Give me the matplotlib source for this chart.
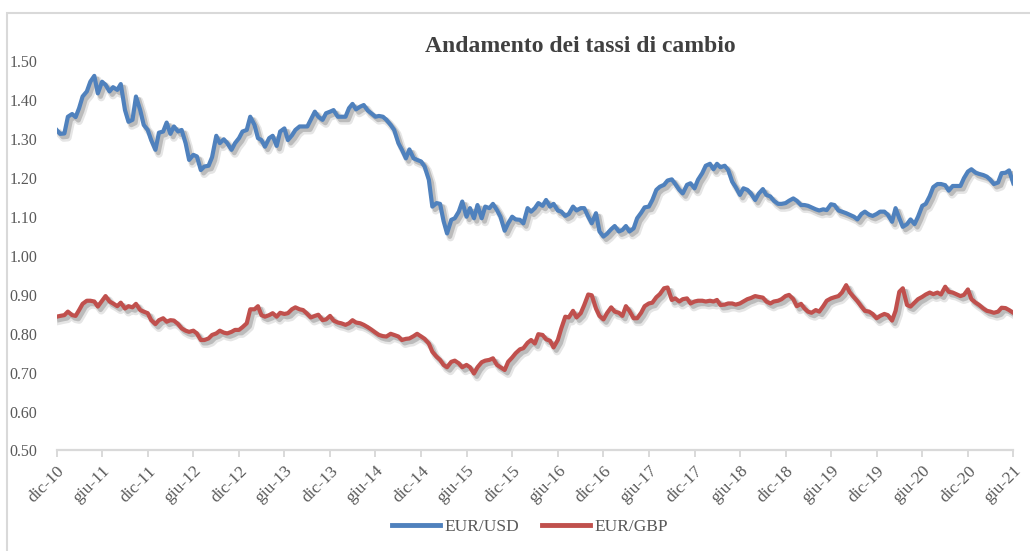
import matplotlib

matplotlib.use("Agg")
import matplotlib.pyplot as plt
import matplotlib.patheffects as pe
from matplotlib.patches import Rectangle
import pandas as pd

# semi-monthly observations, dic-10 .. giu-21
dates = pd.date_range("2010-12-01", "2021-06-01", freq="SMS")

eur_usd = [
    1.324, 1.314, 1.315, 1.358, 1.365, 1.357, 1.38, 1.41, 1.423, 1.448,
    1.463, 1.418, 1.448, 1.44, 1.423, 1.434, 1.427, 1.442, 1.375, 1.345,
    1.35, 1.41, 1.375, 1.337, 1.324, 1.298, 1.273, 1.317, 1.32, 1.343,
    1.314, 1.333, 1.32, 1.324, 1.29, 1.247, 1.26, 1.256, 1.221, 1.23,
    1.232, 1.254, 1.309, 1.29, 1.3, 1.29, 1.273, 1.29, 1.303, 1.32,
    1.324, 1.358, 1.337, 1.303, 1.298, 1.281, 1.303, 1.309, 1.283, 1.32,
    1.328, 1.298, 1.31, 1.324, 1.333, 1.333, 1.333, 1.351, 1.371, 1.358,
    1.35, 1.367, 1.371, 1.375, 1.358, 1.358, 1.358, 1.38, 1.391, 1.377,
    1.384, 1.388, 1.374, 1.367, 1.358, 1.36, 1.358, 1.35, 1.337, 1.324,
    1.29, 1.273, 1.251, 1.274, 1.251, 1.247, 1.243, 1.23, 1.196, 1.127,
    1.136, 1.134, 1.09, 1.058, 1.093, 1.097, 1.114, 1.14, 1.101, 1.123,
    1.097, 1.131, 1.097, 1.127, 1.123, 1.134, 1.118, 1.101, 1.065, 1.084,
    1.101, 1.094, 1.093, 1.084, 1.123, 1.114, 1.123, 1.136, 1.129, 1.144,
    1.127, 1.134, 1.117, 1.114, 1.103, 1.108, 1.127, 1.117, 1.123, 1.123,
    1.101, 1.084, 1.11, 1.063, 1.05, 1.057, 1.069, 1.077, 1.063, 1.067,
    1.077, 1.063, 1.071, 1.097, 1.111, 1.125, 1.127, 1.144, 1.17, 1.178,
    1.183, 1.194, 1.197, 1.185, 1.17, 1.161, 1.183, 1.187, 1.174, 1.196,
    1.213, 1.232, 1.237, 1.223, 1.237, 1.228, 1.232, 1.221, 1.191, 1.177,
    1.157, 1.174, 1.17, 1.161, 1.144, 1.16, 1.172, 1.157, 1.153, 1.142,
    1.134, 1.134, 1.136, 1.142, 1.148, 1.142, 1.131, 1.131, 1.129, 1.125,
    1.12, 1.117, 1.12, 1.118, 1.133, 1.131, 1.117, 1.114, 1.11, 1.106,
    1.101, 1.094, 1.108, 1.114, 1.106, 1.103, 1.108, 1.114, 1.114, 1.106,
    1.088, 1.123, 1.097, 1.075, 1.082, 1.094, 1.082, 1.101, 1.129, 1.134,
    1.154, 1.177, 1.185, 1.185, 1.182, 1.168, 1.18, 1.18, 1.18, 1.2,
    1.217, 1.223, 1.214, 1.211, 1.208, 1.204, 1.196, 1.185, 1.189, 1.213,
    1.214, 1.22, 1.187,
]

eur_gbp = [
    0.844, 0.846, 0.848, 0.857, 0.848, 0.846, 0.861, 0.877, 0.885, 0.885,
    0.883, 0.87, 0.885, 0.897, 0.883, 0.878, 0.871, 0.88, 0.865, 0.871,
    0.868, 0.877, 0.861, 0.857, 0.853, 0.835, 0.825, 0.835, 0.84, 0.831,
    0.835, 0.834, 0.825, 0.814, 0.808, 0.805, 0.808, 0.801, 0.784, 0.784,
    0.788, 0.797, 0.801, 0.808, 0.803, 0.801, 0.805, 0.81, 0.81, 0.817,
    0.827, 0.863, 0.863, 0.871, 0.848, 0.844, 0.848, 0.853, 0.844, 0.854,
    0.851, 0.853, 0.863, 0.868, 0.863, 0.861, 0.851, 0.842, 0.846, 0.849,
    0.835, 0.837, 0.846, 0.834, 0.829, 0.827, 0.823, 0.827, 0.835, 0.829,
    0.827, 0.823, 0.817, 0.811, 0.803, 0.797, 0.794, 0.793, 0.8, 0.797,
    0.793, 0.784, 0.787, 0.788, 0.794, 0.8, 0.793, 0.787, 0.775, 0.754,
    0.741, 0.733, 0.72, 0.714, 0.728, 0.731, 0.724, 0.714, 0.72, 0.714,
    0.698, 0.714, 0.727, 0.731, 0.733, 0.737, 0.72, 0.714, 0.707, 0.728,
    0.739, 0.75, 0.76, 0.763, 0.777, 0.784, 0.775, 0.799, 0.797, 0.786,
    0.782, 0.765, 0.784, 0.814, 0.844, 0.842, 0.859, 0.842, 0.853, 0.874,
    0.901, 0.899, 0.865, 0.846, 0.837, 0.853, 0.868, 0.857, 0.854, 0.846,
    0.871, 0.859, 0.84, 0.84, 0.854, 0.871, 0.878, 0.88, 0.894, 0.902,
    0.917, 0.919, 0.887, 0.891, 0.883, 0.889, 0.891, 0.878, 0.883, 0.885,
    0.885, 0.883, 0.885, 0.883, 0.887, 0.874, 0.875, 0.878, 0.878, 0.875,
    0.878, 0.883, 0.889, 0.892, 0.897, 0.895, 0.893, 0.883, 0.878, 0.883,
    0.885, 0.889, 0.897, 0.9, 0.889, 0.871, 0.877, 0.865, 0.857, 0.854,
    0.861, 0.857, 0.871, 0.885, 0.891, 0.894, 0.897, 0.906, 0.925, 0.907,
    0.894, 0.884, 0.87, 0.859, 0.857, 0.851, 0.84, 0.846, 0.851, 0.848,
    0.834, 0.859, 0.908, 0.917, 0.874, 0.87, 0.88, 0.889, 0.895, 0.901,
    0.906, 0.902, 0.906, 0.901, 0.921, 0.908, 0.906, 0.902, 0.897, 0.9,
    0.914, 0.889, 0.88, 0.874, 0.865, 0.859, 0.857, 0.854, 0.857, 0.867,
    0.866, 0.861, 0.854,
]

tick_dates = pd.date_range("2010-12-01", "2021-06-01", freq="6MS")
month_names = {12: "dic", 6: "giu"}
tick_labels = [f"{month_names[d.month]}-{d.year % 100:02d}" for d in tick_dates]
y_ticks = [0.50, 0.60, 0.70, 0.80, 0.90, 1.00, 1.10, 1.20, 1.30, 1.40, 1.50]

BLUE = "#4F81BD"
RED = "#C0504D"
GREY_TEXT = "#595959"
GREY_LINE = "#D9D9D9"
FONT = ["Liberation Serif", "DejaVu Serif"]

plt.rcParams["font.family"] = FONT

fig = plt.figure(figsize=(10.30, 5.51), dpi=100)
ax = fig.add_axes([0.055, 0.1824, 0.9288, 0.706])

shadow = [
    pe.SimpleLineShadow(offset=(2.5, -3.0), shadow_color="black", alpha=0.10, linewidth=5.5),
    pe.SimpleLineShadow(offset=(2.0, -2.2), shadow_color="black", alpha=0.18, linewidth=3.5),
    pe.Normal(),
]
ax.plot(dates, eur_usd, color=BLUE, linewidth=3.0, label="EUR/USD",
        solid_joinstyle="round", path_effects=shadow)
ax.plot(dates, eur_gbp, color=RED, linewidth=3.0, label="EUR/GBP",
        solid_joinstyle="round", path_effects=shadow)

ax.set_xlim(tick_dates[0], tick_dates[-1])
ax.set_ylim(0.50, 1.50)
ax.set_yticks(y_ticks)
ax.set_yticklabels([f"{v:.2f}" for v in y_ticks])
ax.set_xticks(tick_dates)
ax.set_xticklabels(tick_labels, rotation=45, ha="right", rotation_mode="anchor")

for side in ("top", "right", "left"):
    ax.spines[side].set_visible(False)
ax.spines["bottom"].set_color(GREY_LINE)
ax.spines["bottom"].set_linewidth(1.6)
ax.tick_params(axis="x", length=5, width=1.4, color=GREY_LINE, labelcolor=GREY_TEXT,
               labelsize=12.5, pad=4)
ax.tick_params(axis="y", length=0, labelcolor=GREY_TEXT, labelsize=11.5, pad=14)

fig.text(0.563, 0.915, "Andamento dei tassi di cambio", ha="center", va="center",
         fontsize=17, fontweight="bold", color="#404040")

handles, labels = ax.get_legend_handles_labels()
leg = fig.legend(handles, labels, loc="center", bbox_to_anchor=(0.5146, 0.0436), ncol=2,
                 frameon=False, fontsize=12.5, handlelength=2.8, handletextpad=0.25,
                 columnspacing=1.3, labelcolor=GREY_TEXT)
for line in leg.get_lines():
    line.set_linewidth(3.5)
    line.set_path_effects([])

fig.patches.append(Rectangle((0.0068, -0.05), 1.2, 1.027, transform=fig.transFigure,
                             facecolor="none", edgecolor=GREY_LINE, linewidth=1.5))

fig.savefig("out.png", dpi=100)
